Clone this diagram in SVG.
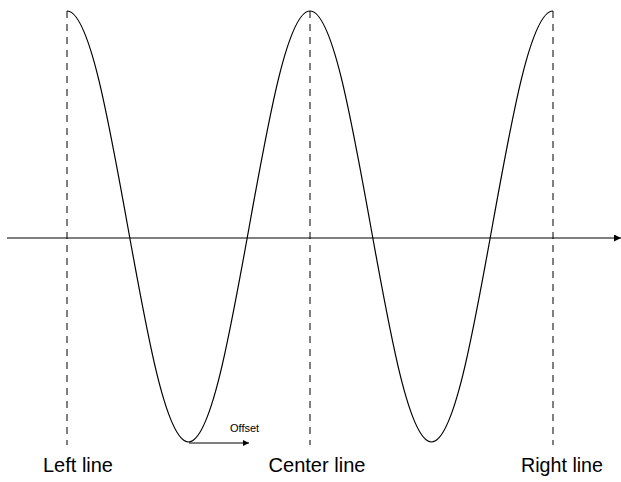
<svg xmlns="http://www.w3.org/2000/svg" width="621" height="482" viewBox="0 0 621 482">
<style>
.guide{stroke:#000;stroke-width:1;stroke-dasharray:7 6;fill:none}
.wave{stroke:#000;stroke-width:1.2;fill:none}
.axis{stroke:#000;stroke-width:1.2;fill:none}
.off{stroke:#555;stroke-width:1.6;fill:none}
.lbl{font-family:"Liberation Sans",Arial,sans-serif;font-size:19.5px;fill:#000}
.small{font-family:"Liberation Sans",Arial,sans-serif;font-size:11px;fill:#000}
</style>
<defs>
<marker id="ah" viewBox="0 0 10 10" refX="10" refY="5" markerWidth="8" markerHeight="7" markerUnits="userSpaceOnUse" orient="auto"><path d="M0,0 L10,5 L0,10 Z" fill="#000"/></marker>
<marker id="ah2" viewBox="0 0 10 10" refX="10" refY="5" markerWidth="8" markerHeight="6" markerUnits="userSpaceOnUse" orient="auto"><path d="M0,0 L10,5 L0,10 Z" fill="#000"/></marker>
</defs>
<g id="connectors">
<line class="axis" x1="7" y1="238" x2="621" y2="238" marker-end="url(#ah)"/>
<line class="off" x1="189" y1="443" x2="249" y2="443" marker-end="url(#ah2)"/>
</g>
<g id="left-line">
<line class="guide" x1="67" y1="11" x2="67" y2="445"/>
<text class="lbl" x="78" y="472" text-anchor="middle" textLength="70" lengthAdjust="spacingAndGlyphs">Left line</text>
</g>
<g id="center-line">
<line class="guide" x1="310" y1="11" x2="310" y2="445"/>
<text class="lbl" x="317" y="472" text-anchor="middle" textLength="97" lengthAdjust="spacingAndGlyphs">Center line</text>
</g>
<g id="right-line">
<line class="guide" x1="553" y1="11" x2="553" y2="445"/>
<text class="lbl" x="562" y="472" text-anchor="middle" textLength="82" lengthAdjust="spacingAndGlyphs">Right line</text>
</g>
<g id="wave">
<path class="wave" d="M67,11 C88.99,11 107.92,116 127.75,226.5 C147.58,337 166.51,442 188.5,442 C210.49,442 229.42,337 249.25,226.5 C269.08,116 288.01,11 310,11 C331.99,11 350.92,116 370.75,226.5 C390.58,337 409.51,442 431.5,442 C453.49,442 472.42,337 492.25,226.5 C512.08,116 531.01,11 553,11"/>
</g>
<g id="offset">
<text class="small" x="230" y="432">Offset</text>
</g>
</svg>
